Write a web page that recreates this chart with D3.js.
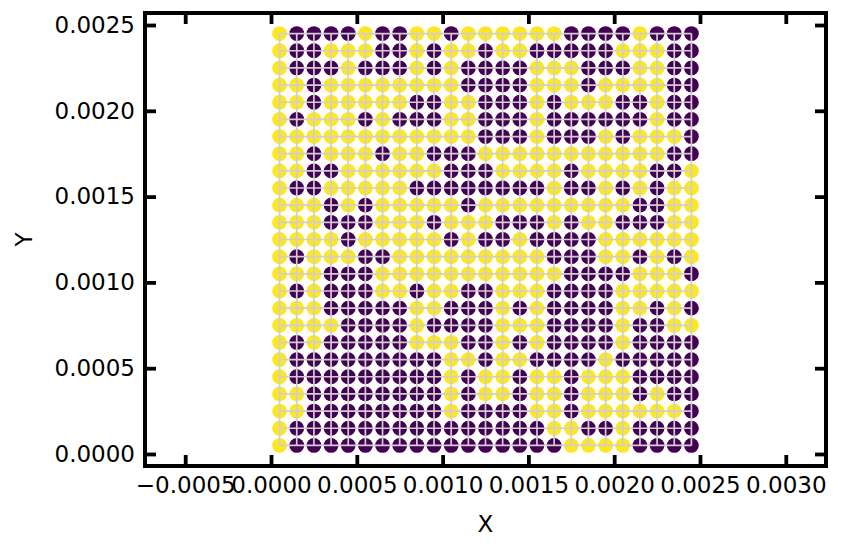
<!DOCTYPE html>
<html><head><meta charset="utf-8">
<script src="https://cdn.jsdelivr.net/npm/d3@7"></script>
<style>body{margin:0;background:#fff}svg{display:block}text{font-family:"DejaVu Sans",sans-serif}</style>
</head><body><svg id="c" width="842" height="552"></svg>
<script>
// Grid coordinates
const xValues = d3.range(25).map(i => +(0.00005 + i * 0.0001).toFixed(5));
const yValues = d3.range(25).map(i => +(0.00005 + i * 0.0001).toFixed(5));
// Class labels per row, top row (y = 0.00245) first; 1 = yellow, 0 = purple
const rowLabels = [
"1000010011011111100001000",
"1001110010110110000011100",
"1000100010100001110001100",
"1101111111100001110111100",
"1101111100110001011100100",
"1011101000110001000000100",
"1111111111110001000101110",
"1101110110001111111111100",
"1100111111000111101111001",
"1001111100000000100101011",
"1110101111101111111110011",
"1110001110111000101100011",
"1111011111010010000111111",
"1011100111111111000110101",
"1110001111111111100001110",
"1010001101100111000011111",
"1110000011000101000011010",
"1111000010000111000010011",
"1010000011100101000010000",
"1000000000110110000100000",
"1000000000101101101110000",
"1100000000101101101110100",
"1100000000100001101111110",
"1000000000000000110010000",
"1000000000000000011110000"
];
const xTicks = [-0.0005, 0.0000, 0.0005, 0.0010, 0.0015, 0.0020, 0.0025, 0.0030];
const yTicks = [0.0000, 0.0005, 0.0010, 0.0015, 0.0020, 0.0025];
const classColors = ["#440154", "#fde725"];

const svg = d3.select("#c");
const L = 145, R = 826, T = 13, B = 466;
const yDom = [-0.00007, 0.00257];
const k = (B - T) / (yDom[1] - yDom[0]);
const xc = 0.00125, xw = (R - L) / k;
const x = d3.scaleLinear().domain([xc - xw / 2, xc + xw / 2]).range([L, R]);
const y = d3.scaleLinear().domain(yDom).range([B, T]);

const pts = [];
rowLabels.forEach((row, r) => {
  const yv = yValues[yValues.length - 1 - r];
  row.split("").forEach((c, i) => pts.push({x: xValues[i], y: yv, c: +c}));
});

const g = svg.append("g");
g.selectAll("circle").data(pts).join("circle")
  .attr("cx", d => x(d.x)).attr("cy", d => y(d.y)).attr("r", 7.4)
  .attr("fill", d => classColors[d.c]);

const x0 = d3.min(xValues), x1 = d3.max(xValues), y0 = d3.min(yValues), y1 = d3.max(yValues);
g.selectAll("line.h").data(yValues).join("line").attr("class", "h")
  .attr("x1", x(x0)).attr("x2", x(x1)).attr("y1", d => y(d)).attr("y2", d => y(d))
  .attr("stroke", "#cfcfcf").attr("stroke-width", 1.7);
g.selectAll("line.v").data(xValues).join("line").attr("class", "v")
  .attr("x1", d => x(d)).attr("x2", d => x(d)).attr("y1", y(y0)).attr("y2", y(y1))
  .attr("stroke", "#cfcfcf").attr("stroke-width", 1.7);

const fmt = d3.format(".4f");
const tickFmt = v => fmt(v).replace("-", "\u2212");
const tl = 11;
function styleAxis(sel) {
  sel.select(".domain").remove();
  sel.selectAll(".tick line").attr("stroke", "#000").attr("stroke-width", 3.8);
  sel.selectAll(".tick text").attr("fill", "#000").attr("font-size", 23).attr("font-family", "DejaVu Sans");
}
svg.append("g").attr("transform", `translate(0,${B})`)
  .call(d3.axisBottom(x).tickValues(xTicks).tickFormat(tickFmt).tickSizeInner(-tl).tickPadding(11))
  .call(styleAxis);
svg.append("g").attr("transform", `translate(0,${T})`)
  .call(d3.axisTop(x).tickValues(xTicks).tickFormat("").tickSizeInner(-tl))
  .call(styleAxis);
svg.append("g").attr("transform", `translate(${L},0)`)
  .call(d3.axisLeft(y).tickValues(yTicks).tickFormat(tickFmt).tickSizeInner(-tl).tickPadding(10))
  .call(styleAxis);
svg.append("g").attr("transform", `translate(${R},0)`)
  .call(d3.axisRight(y).tickValues(yTicks).tickFormat("").tickSizeInner(-tl))
  .call(styleAxis);

svg.append("rect").attr("x", L).attr("y", T).attr("width", R - L).attr("height", B - T)
  .attr("fill", "none").attr("stroke", "#000").attr("stroke-width", 4);

svg.append("text").attr("x", (L + R) / 2).attr("y", 532).attr("text-anchor", "middle")
  .attr("font-size", 23).text("X");
svg.append("text").attr("transform", `translate(32,${(T + B) / 2}) rotate(-90)`)
  .attr("text-anchor", "middle").attr("font-size", 23).text("Y");
</script></body></html>
